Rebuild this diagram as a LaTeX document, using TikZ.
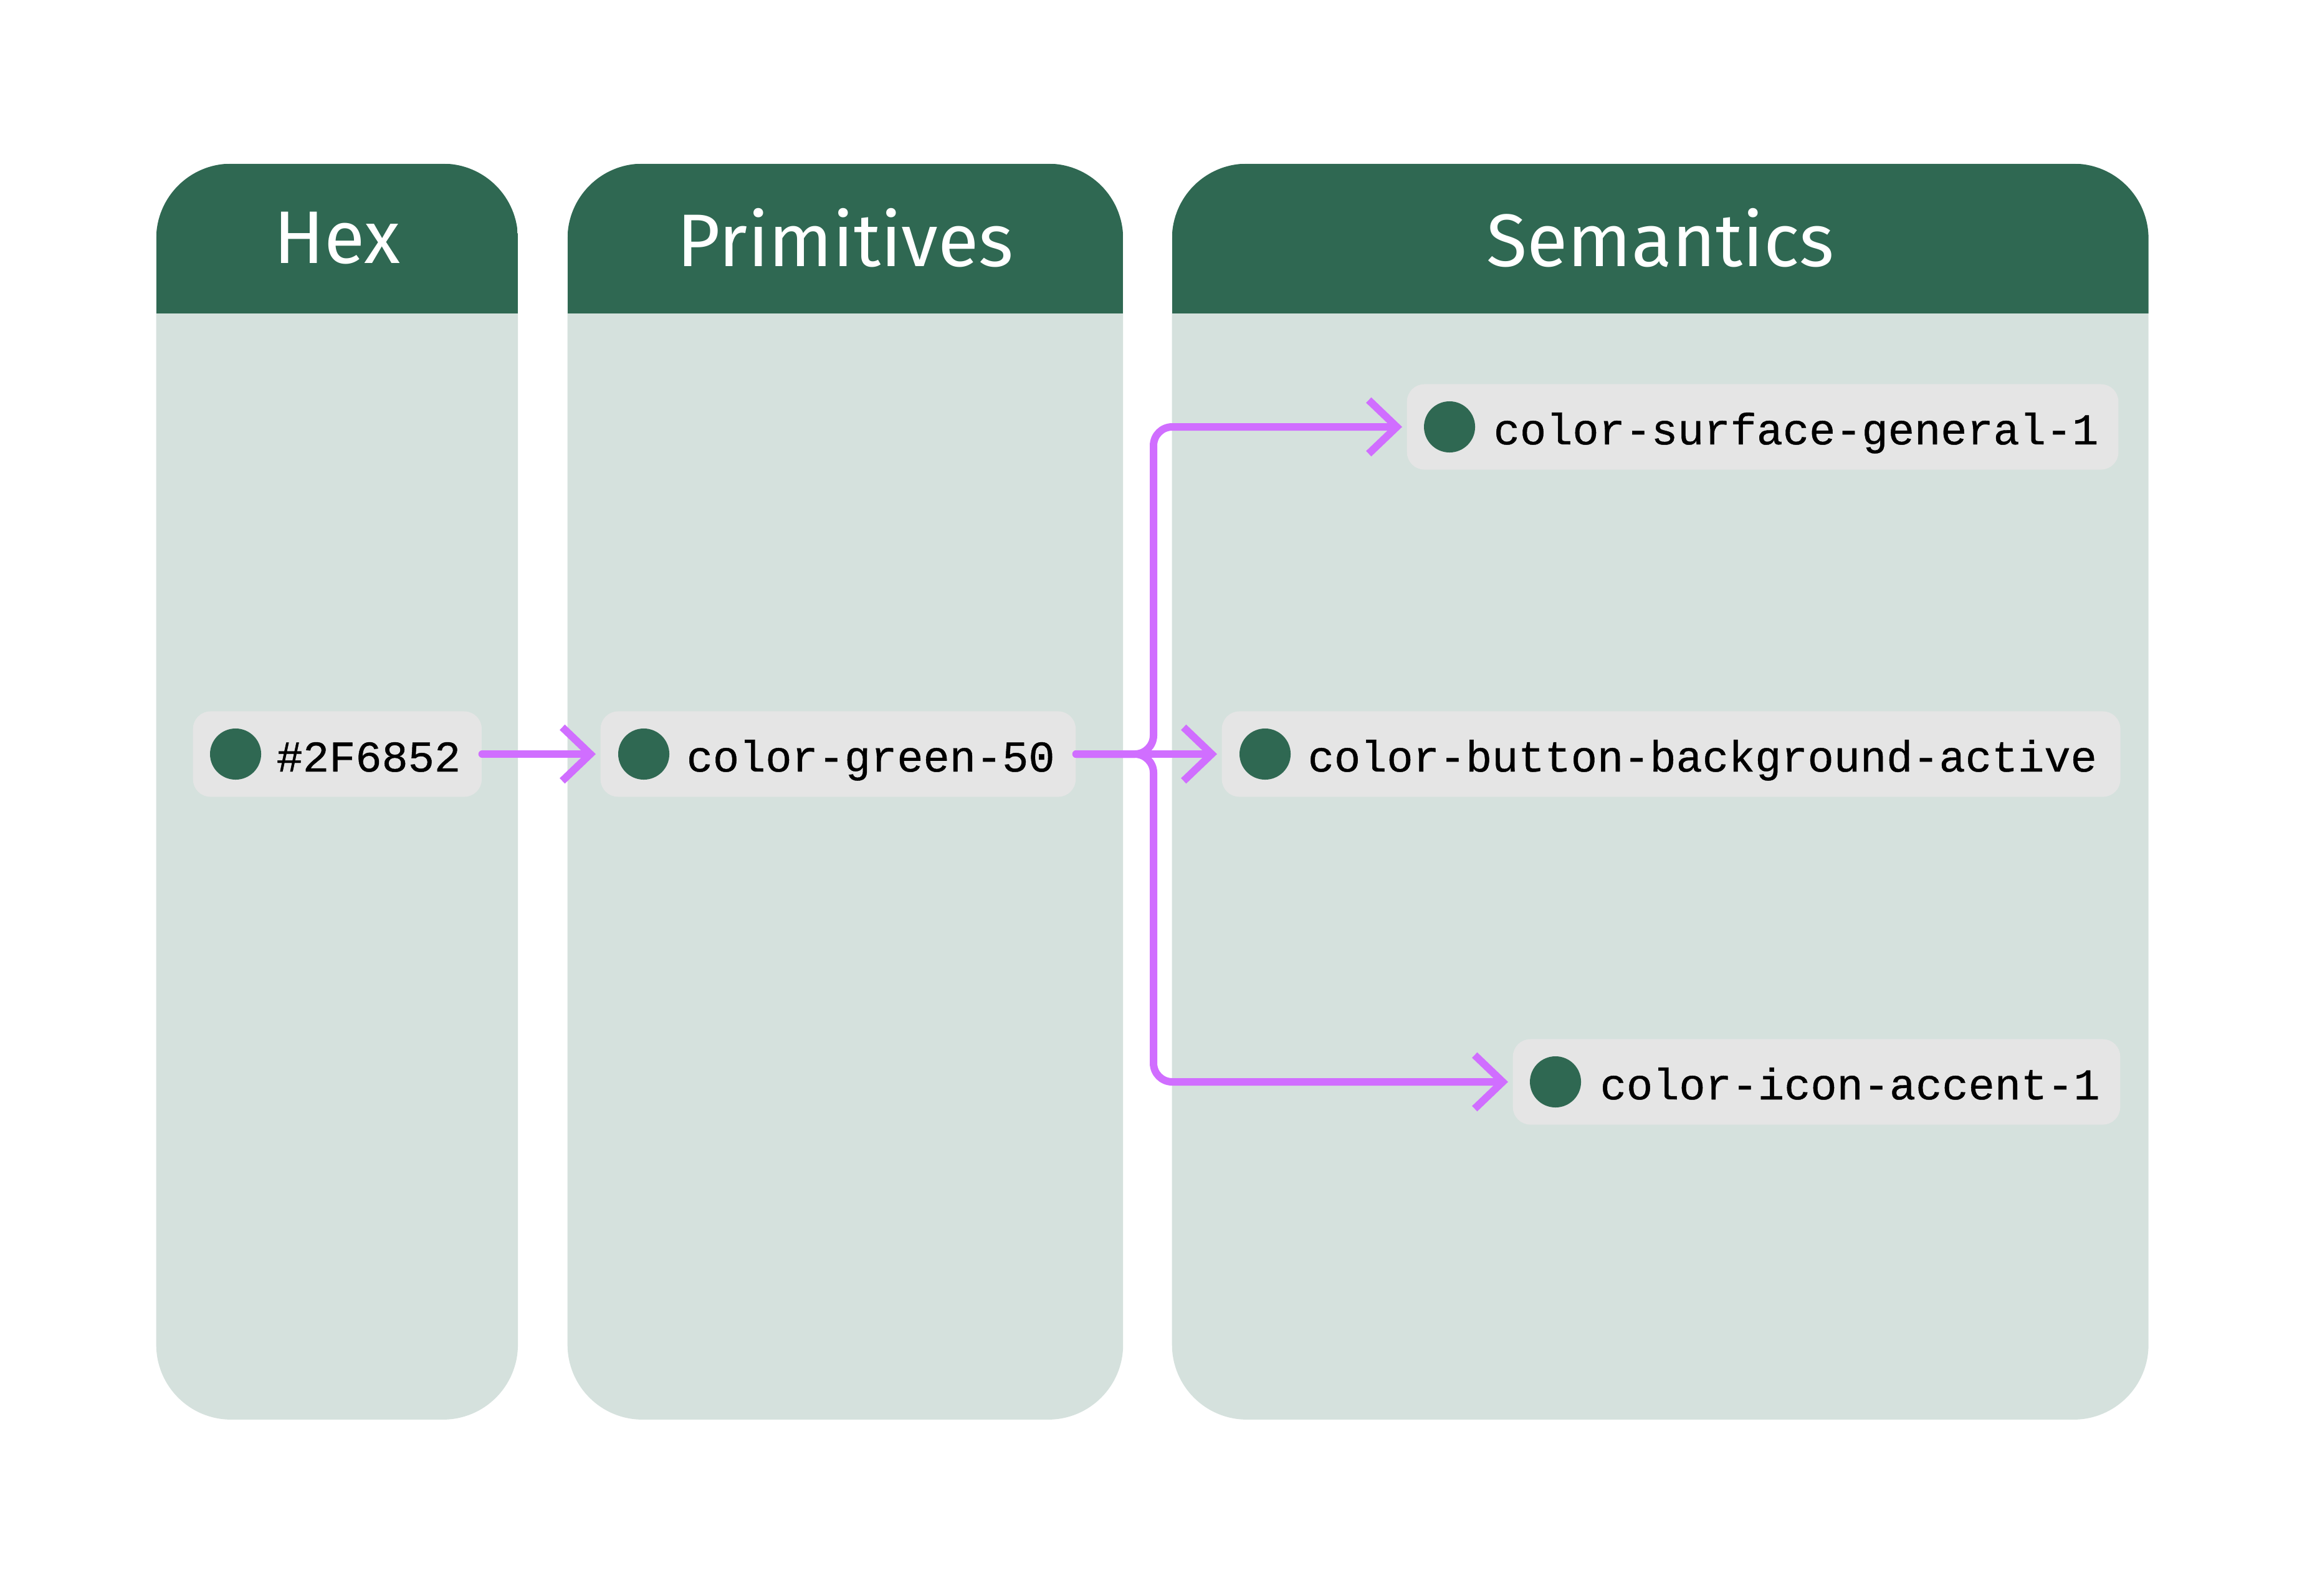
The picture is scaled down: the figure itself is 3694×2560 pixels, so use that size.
\documentclass[tikz,border=0pt]{standalone}
\usepackage{fontspec}
\setmainfont{Fira Sans}
\newfontfamily\monofont[FakeBold=0.6]{Liberation Mono}
\usetikzlibrary{arrows.meta}
\definecolor{hdr}{HTML}{2F6852}
\definecolor{bodyc}{HTML}{D5E1DD}
\definecolor{pillc}{HTML}{E5E5E5}
\definecolor{connc}{HTML}{D06EFF}
\begin{document}
\begin{tikzpicture}[x=0.01cm,y=-0.01cm,
  column/.style={rectangle, rounded corners=1.2cm, fill=bodyc, inner sep=0pt, anchor=north west,
    path picture={\fill[hdr, sharp corners] (path picture bounding box.north west) rectangle ([yshift=-2.4cm]path picture bounding box.north east);}},
  header/.style={text=white, font=\fontsize{34pt}{40pt}\selectfont, inner sep=0pt},
  pill/.style={rectangle, rounded corners=0.28cm, fill=pillc, minimum height=1.37cm, inner sep=0pt, anchor=west},
  dot/.style={circle, fill=hdr, minimum size=0.82cm, inner sep=0pt},
  tok/.style={font=\monofont\fontsize{20pt}{24pt}\selectfont, inner sep=0pt, anchor=base west},
  conn/.style={draw=connc, line width=0.12cm, line cap=round, line join=round, rounded corners=0.3cm,
    -{Straight Barb[length=0.45cm,width=0.86cm]}, shorten >=0.07cm}
]
\useasboundingbox[fill=white] (0,0) rectangle (3694,2560);

% columns
\node[column, minimum width=5.8cm, minimum height=20.14cm] (hexcol) at (250,262) {};
\node[column, minimum width=8.91cm, minimum height=20.14cm] (primcol) at (910,262) {};
\node[column, minimum width=15.66cm, minimum height=20.14cm] (semcol) at (1880,262) {};

\node[header] (hexhd) at ([yshift=-1.2cm]hexcol.north) {Hex};
\node[header] (primhd) at ([yshift=-1.2cm]primcol.north) {Primitives};
\node[header] (semhd) at ([yshift=-1.2cm]semcol.north) {Semantics};

% pills
\node[pill, minimum width=4.63cm] (hexp) at (309,1210) {};
\node[dot] (hexd) at ([xshift=0.69cm]hexp.west) {};
\node[tok] (hext) at ([xshift=1.34cm,yshift=-0.28cm]hexp.west) {\#2F6852};

\node[pill, minimum width=7.62cm] (primp) at (963,1210) {};
\node[dot] (primd) at ([xshift=0.70cm]primp.west) {};
\node[tok] (primt) at ([xshift=1.38cm,yshift=-0.28cm]primp.west) {color-green-50};

\node[pill, minimum width=11.41cm] (surfp) at (2257,685) {};
\node[dot] (surfd) at ([xshift=0.69cm]surfp.west) {};
\node[tok] (surft) at ([xshift=1.39cm,yshift=-0.28cm]surfp.west) {color-surface-general-1};

\node[pill, minimum width=14.41cm] (btnp) at (1960,1210) {};
\node[dot] (btnd) at ([xshift=0.70cm]btnp.west) {};
\node[tok] (btnt) at ([xshift=1.38cm,yshift=-0.28cm]btnp.west) {color-button-background-active};

\node[pill, minimum width=9.74cm] (iconp) at (2427,1736) {};
\node[dot] (icond) at ([xshift=0.69cm]iconp.west) {};
\node[tok] (icont) at ([xshift=1.40cm,yshift=-0.28cm]iconp.west) {color-icon-accent-1};

% connectors
\coordinate (split) at (1851,1210);
\draw[conn] (hexp.east) -- (primp.west);
\draw[conn] (primp.east) -- (primp.east -| split) |- (surfp.west);
\draw[conn] (primp.east) -- (btnp.west);
\draw[conn] (primp.east) -- (primp.east -| split) |- (iconp.west);
\end{tikzpicture}
\end{document}
